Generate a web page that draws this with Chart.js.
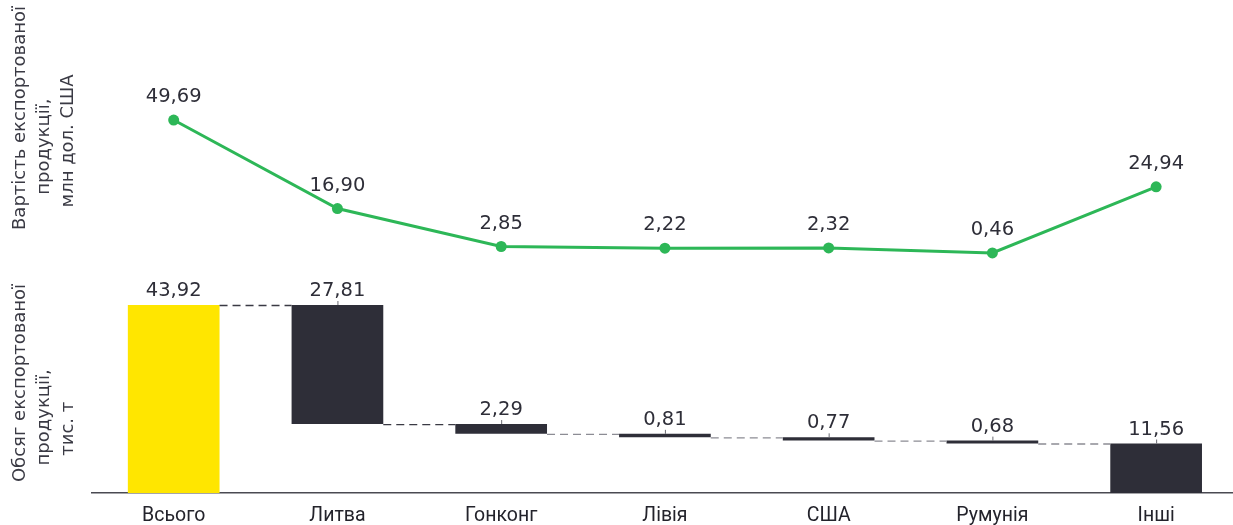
<!DOCTYPE html>
<html lang="uk">
<head>
<meta charset="utf-8">
<title>Експорт продукції</title>
<script src="https://cdn.jsdelivr.net/npm/chart.js@4/dist/chart.umd.min.js"></script>
<style>
    html,
    body {
        margin: 0;
        padding: 0;
        background: #ffffff;
        overflow: hidden;
    }

    #exportChart {
        display: block;
    }
</style>
</head>
<body>

<canvas id="exportChart" width="1238" height="525"></canvas>

<script>

/*
 * Data
 */

const categories = [
    "Всього",
    "Литва",
    "Гонконг",
    "Лівія",
    "США",
    "Румунія",
    "Інші"
];

// обсяг експортованої продукції, тис. т
const exportVolume = [
    43.92,
    27.81,
    2.29,
    0.81,
    0.77,
    0.68,
    11.56
];

// вартість експортованої продукції, млн дол. США
const exportValue = [
    49.69,
    16.90,
    2.85,
    2.22,
    2.32,
    0.46,
    24.94
];


document.addEventListener(

    "DOMContentLoaded",

    () => {

        const yellow = "#ffe600";
        const dark = "#2e2e38";
        const green = "#2db757";
        const textColor = "#2e2e38";

        const fmt =
            v => v.toFixed(2).replace(".", ",");

        /*
         * Waterfall ranges: first bar is the total,
         * the rest hang down from the running remainder
         */

        let level =
            exportVolume[0];

        const ranges =
            exportVolume.map(
                (v, i) => {

                    if (i === 0) {
                        return [0, v];
                    }

                    const top = level;
                    level = level - v;

                    return [Math.max(level, 0), top];

                }
            );

        const barColors =
            exportVolume.map(
                (v, i) => i === 0 ? yellow : dark
            );


        /*
         * Labels, ticks and dashed connectors
         */

        const annotate = {

            id: "annotate",

            afterDatasetsDraw(chart) {

                const ctx = chart.ctx;

                const bars =
                    chart.getDatasetMeta(0).data;

                const points =
                    chart.getDatasetMeta(1).data;

                ctx.save();

                // connectors between bars
                for (let i = 0; i < bars.length - 1; i++) {

                    const a = bars[i];
                    const b = bars[i + 1];

                    const y =
                        Math.min(b.y, b.base);

                    ctx.beginPath();
                    ctx.setLineDash([8, 5]);
                    ctx.lineWidth = 1.3;
                    ctx.strokeStyle =
                        i < 2 ? "#3a3a44" : "#8c8c94";
                    ctx.moveTo(a.x + a.width / 2, y + 0.5);
                    ctx.lineTo(b.x - b.width / 2, y + 0.5);
                    ctx.stroke();

                }

                ctx.setLineDash([]);

                ctx.font = "19.5px 'DejaVu Sans'";
                ctx.fillStyle = textColor;
                ctx.textAlign = "center";
                ctx.textBaseline = "alphabetic";

                // bar values
                bars.forEach(
                    (bar, i) => {

                        const top =
                            Math.min(bar.y, bar.base);

                        ctx.fillText(
                            fmt(exportVolume[i]),
                            bar.x,
                            top - 9
                        );

                        if (i > 0) {
                            ctx.beginPath();
                            ctx.lineWidth = 1;
                            ctx.strokeStyle = "#6b6b73";
                            ctx.moveTo(bar.x + 0.5, top);
                            ctx.lineTo(bar.x + 0.5, top - 4);
                            ctx.stroke();
                        }

                    }
                );

                // line values
                points.forEach(
                    (pt, i) => {

                        ctx.fillText(
                            fmt(exportValue[i]),
                            pt.x,
                            pt.y - 18
                        );

                    }
                );

                ctx.restore();

            }

        };


        const hiddenAxis = {
            grid: { display: false, drawTicks: false },
            border: { display: false },
            ticks: { display: false }
        };

        const titleFont = {
            family: "'DejaVu Sans', sans-serif",
            size: 18,
            lineHeight: 1.33
        };


        new Chart(

            document.getElementById("exportChart"),

            {

                data: {

                    labels: categories,

                    datasets: [

                        {
                            type: "bar",
                            label: "Обсяг",
                            data: ranges,
                            backgroundColor: barColors,
                            borderWidth: 0,
                            categoryPercentage: 1,
                            barPercentage: 0.56,
                            yAxisID: "yBar",
                            order: 2
                        },

                        {
                            type: "line",
                            label: "Вартість",
                            data: exportValue,
                            borderColor: green,
                            backgroundColor: green,
                            borderWidth: 3,
                            pointRadius: 5.5,
                            pointBorderWidth: 0,
                            pointBackgroundColor: green,
                            tension: 0,
                            clip: false,
                            yAxisID: "yLine",
                            order: 1
                        }

                    ]

                },

                options: {

                    responsive: false,
                    animation: false,
                    devicePixelRatio: 1,

                    layout: {
                        autoPadding: false,
                        padding: { top: 0, right: 0, bottom: -14.4, left: 0 }
                    },

                    plugins: {
                        legend: { display: false },
                        tooltip: { enabled: false }
                    },

                    scales: {

                        x: {
                            type: "category",
                            offset: true,
                            grid: { display: false, drawTicks: false },
                            border: {
                                display: true,
                                color: "#4a4a52",
                                width: 1.6
                            },
                            ticks: {
                                color: "#23232b",
                                padding: 11.5,
                                font: {
                                    family: "Roboto, sans-serif",
                                    size: 19.5
                                }
                            }
                        },

                        yBar: {
                            ...hiddenAxis,
                            type: "linear",
                            position: "left",
                            stack: "left",
                            stackWeight: 220,
                            min: 0,
                            max: 51.4,
                            title: {
                                display: true,
                                text: [
                                    "Обсяг експортованої",
                                    "продукції,            ",
                                    "тис. т                ",
                                ],
                                color: "#3a3a44",
                                font: titleFont,
                                padding: { top: 8, bottom: 12 }
                            }
                        },

                        yGap: {
                            ...hiddenAxis,
                            type: "linear",
                            position: "left",
                            stack: "left",
                            stackWeight: 37
                        },

                        yLine: {
                            ...hiddenAxis,
                            type: "linear",
                            position: "left",
                            stack: "left",
                            stackWeight: 236,
                            min: 6.74,
                            max: 94.15,
                            title: {
                                display: true,
                                text: [
                                    "Вартість експортованої",
                                    "продукції,          ",
                                    "млн дол. США        "
                                ],
                                color: "#3a3a44",
                                font: titleFont,
                                padding: { top: 8, bottom: 12 }
                            }
                        }

                    }

                },

                plugins: [annotate]

            }

        );

    }

);

</script>
</body>
</html>
